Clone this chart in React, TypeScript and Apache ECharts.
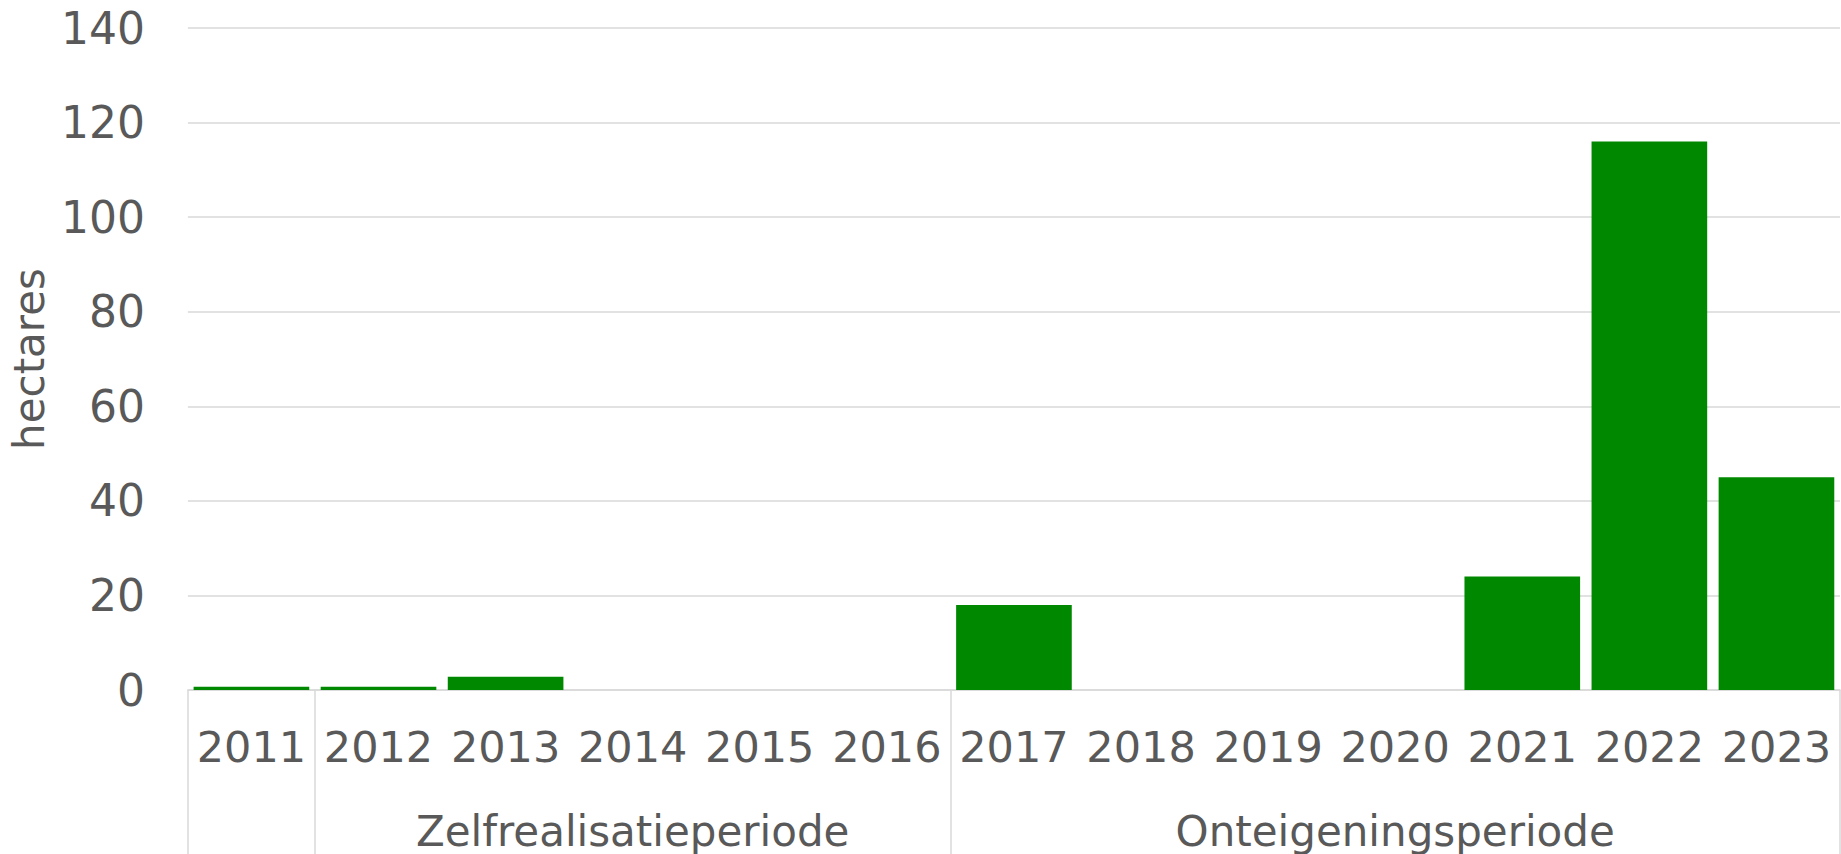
import React, { useEffect, useRef } from "react";
import * as echarts from "echarts";

const years = ["2011", "2012", "2013", "2014", "2015", "2016", "2017", "2018", "2019", "2020", "2021", "2022", "2023"];
const hectares = [0.7, 0.7, 2.8, 0, 0, 0, 18, 0, 0, 0, 24, 116, 45];
const yTicks = { min: 0, max: 140, interval: 20 };
const groupBoundaries = [0, 1, 6, 13];
const groupCenters = [3.5, 9.5];
const groupNames = ["Zelfrealisatieperiode", "Onteigeningsperiode"];

const FONT = "Verdana, 'DejaVu Sans', sans-serif";
const TEXT = "#595959";
const GRID = "#d9d9d9";

export default function App() {
  const ref = useRef<HTMLDivElement>(null);
  useEffect(() => {
    document.body.style.margin = "0";
    const chart = echarts.init(ref.current!, undefined, { renderer: "svg" });
    chart.setOption({
      animation: false,
      backgroundColor: "#ffffff",
      grid: { left: 186, right: 1, top: 28, bottom: 164, containLabel: false },
      xAxis: [
        {
          type: "category",
          data: years,
          axisLine: { show: true, lineStyle: { color: GRID, width: 1.5 } },
          axisTick: { show: false },
          axisLabel: {
            color: TEXT,
            fontSize: 43,
            lineHeight: 43,
            fontFamily: FONT,
            margin: 35,
            interval: 0,
          },
        },
        {
          type: "value",
          position: "bottom",
          min: 0,
          max: 13,
          axisLine: { show: false },
          splitLine: { show: false },
          axisTick: {
            show: true,
            customValues: groupBoundaries,
            length: 170,
            inside: false,
            lineStyle: { color: GRID, width: 1.5 },
          },
          axisLabel: {
            show: true,
            customValues: groupCenters,
            formatter: (v: number) => {
              const i = groupCenters.indexOf(v);
              return i >= 0 ? groupNames[i] : "";
            },
            color: TEXT,
            fontSize: 42,
            lineHeight: 42,
            fontFamily: FONT,
            margin: 120,
          },
        },
      ],
      yAxis: {
        type: "value",
        min: yTicks.min,
        max: yTicks.max,
        interval: yTicks.interval,
        name: "hectares",
        nameLocation: "middle",
        nameRotate: 90,
        nameGap: 134,
        nameTextStyle: { color: TEXT, fontSize: 42, fontFamily: FONT },
        axisLine: { show: false },
        axisTick: { show: false },
        axisLabel: { color: TEXT, fontSize: 44, fontFamily: FONT, margin: 43 },
        splitLine: { lineStyle: { color: GRID, width: 1.5 } },
      },
      series: [
        {
          type: "bar",
          data: hectares,
          xAxisIndex: 0,
          barCategoryGap: "9%",
          itemStyle: { color: "#008800" },
        },
      ],
    });
    return () => chart.dispose();
  }, []);
  return <div ref={ref} style={{ width: 1841, height: 854 }} />;
}
